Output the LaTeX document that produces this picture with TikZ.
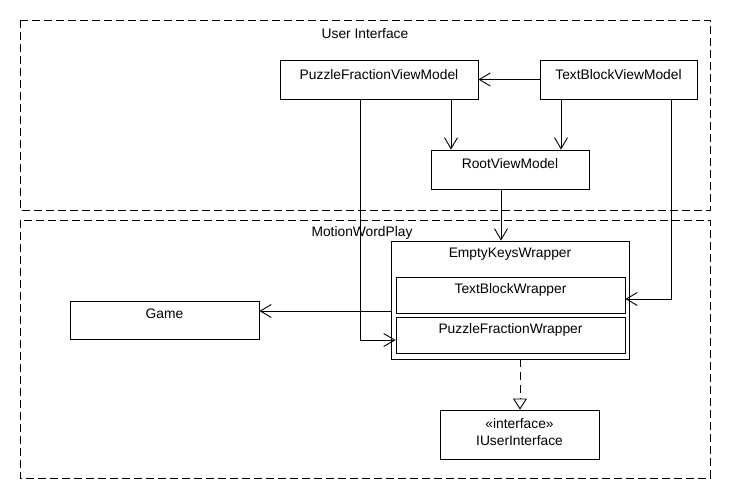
\documentclass[tikz,border=0pt]{standalone}
\usepackage{fontspec}
\setmainfont{Liberation Sans}
\usetikzlibrary{arrows.meta}
\begin{document}
\begin{tikzpicture}[x=1pt,y=-1pt,
  box/.style={draw,line width=0.9pt,rectangle,inner sep=0pt,fill=white},
  frame/.style={draw,line width=0.9pt,dash pattern=on 8pt off 4pt},
  lbl/.style={inner sep=0pt,font=\fontsize{13.8}{16.5}\selectfont},
  arr/.style={line width=0.9pt,-{Straight Barb[length=11pt,width=13pt,line width=0.9pt]}},
  dep/.style={line width=0.9pt,dash pattern=on 8pt off 5pt,-{Triangle[open,length=11pt,width=14pt,line width=0.9pt]}}]
\useasboundingbox[fill=white] (0,0) rectangle (730,500);
% frames
\draw[frame] (20,20) rectangle (710,210);
\draw[frame] (20,220) rectangle (710,478);
\node[lbl] (uiT) at (365,34) {User Interface};
\node[lbl] (mwpT) at (362,233) {MotionWordPlay};
% boxes
\node[box,minimum width=198pt,minimum height=39pt] (pfvm) at (379,79.5) {};
\node[lbl] (pfvmT) at (379,75) {PuzzleFractionViewModel};
\node[box,minimum width=157pt,minimum height=39pt] (tbvm) at (618.5,79.5) {};
\node[lbl] (tbvmT) at (618.5,75) {TextBlockViewModel};
\node[box,minimum width=158pt,minimum height=39pt] (root) at (510,169.5) {};
\node[lbl] (rootT) at (510,164) {RootViewModel};
\node[box,minimum width=238pt,minimum height=118pt] (ekw) at (510,300) {};
\node[lbl] (ekwT) at (510,254) {EmptyKeysWrapper};
\node[box,minimum width=229pt,minimum height=36pt] (tbw) at (510.5,295) {};
\node[lbl] (tbwT) at (510.5,290) {TextBlockWrapper};
\node[box,minimum width=229pt,minimum height=36pt] (pfw) at (510.5,335) {};
\node[lbl] (pfwT) at (510.5,330) {PuzzleFractionWrapper};
\node[box,minimum width=189pt,minimum height=38pt] (game) at (164.5,320) {};
\node[lbl] (gameT) at (164.5,314) {Game};
\node[box,minimum width=159pt,minimum height=49pt] (iui) at (519.5,434.5) {};
\node[lbl,align=center] (iuiT) at (519.5,432) {«interface»\\IUserInterface};
% helper coordinates
\coordinate (c451) at (451,0);
\coordinate (c561) at (561,0);
\coordinate (c501) at (501,0);
\coordinate (c520) at (520,0);
\coordinate (k1) at (671,299);
\coordinate (k2) at (360,340);
\coordinate (k3) at (0,311);
% connectors
\draw[arr] (tbvm.west) -- (pfvm.east);
\draw[arr] (pfvm.south -| c451) -- (root.north -| c451);
\draw[arr] (tbvm.south -| c561) -- (root.north -| c561);
\draw[arr] (root.south -| c501) -- (ekw.north -| c501);
\draw[arr] (tbvm.south -| k1) -- (k1) -- (tbw.east |- k1);
\draw[arr] (pfvm.south -| k2) -- (k2) -- (pfw.west |- k2);
\draw[arr] (ekw.west |- k3) -- (game.east |- k3);
\draw[dep] (ekw.south -| c520) -- (iui.north -| c520);
\end{tikzpicture}
\end{document}
